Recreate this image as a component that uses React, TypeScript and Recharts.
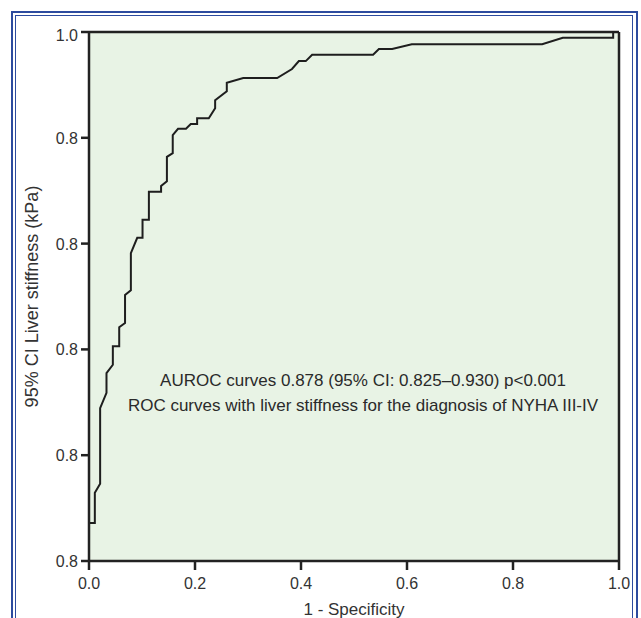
import { CartesianGrid, Line, LineChart, ReferenceLine, XAxis, YAxis } from "recharts";

// ROC curve points (1 - specificity, sensitivity)
const fpr = [
  0, 0, 0.011, 0.011, 0.021, 0.021, 0.033, 0.033, 0.045, 0.045, 0.057, 0.057,
  0.068, 0.068, 0.079, 0.079, 0.091, 0.101, 0.101, 0.113, 0.113, 0.136, 0.136,
  0.147, 0.147, 0.158, 0.158, 0.168, 0.183, 0.192, 0.204, 0.204, 0.226, 0.238,
  0.238, 0.26, 0.26, 0.291, 0.355, 0.383, 0.396, 0.409, 0.421, 0.536, 0.547,
  0.572, 0.609, 0.855, 0.894, 0.989, 0.989, 1.0,
];
const tpr = [
  0, 0.072, 0.072, 0.129, 0.146, 0.289, 0.318, 0.355, 0.371, 0.406, 0.406, 0.442,
  0.45, 0.503, 0.512, 0.582, 0.611, 0.611, 0.645, 0.645, 0.698, 0.698, 0.709,
  0.718, 0.764, 0.771, 0.805, 0.817, 0.817, 0.826, 0.826, 0.837, 0.837, 0.856,
  0.871, 0.888, 0.904, 0.913, 0.913, 0.93, 0.945, 0.945, 0.957, 0.957, 0.968,
  0.968, 0.977, 0.977, 0.989, 0.989, 1.0, 1.0,
];

const xTicks = [0, 0.2, 0.4, 0.6, 0.8, 1.0];
const xTickLabels = ["0.0", "0.2", "0.4", "0.6", "0.8", "1.0"];
const yTicks = [0, 0.2, 0.4, 0.6, 0.8, 1.0];
const yTickLabels = ["0.8", "0.8", "0.8", "0.8", "0.8", "1.0"];

const annotation = [
  "AUROC curves 0.878 (95% CI: 0.825\u20130.930) p<0.001",
  "ROC curves with liver stiffness for the diagnosis of NYHA III-IV",
];

const data = fpr.map((x, i) => ({ x, y: tpr[i] }));

const FONT = "'Liberation Sans', Arial, sans-serif";
const INK = "#222";
const BLUE = "#2d4b9e";

const XTick = ({ x, y, payload }: any) => (
  <text
    x={x}
    y={y + 15}
    textAnchor="middle"
    fontSize={16}
    fill="#333"
    fontFamily={FONT}
  >
    {xTickLabels[xTicks.indexOf(payload.value)] ?? ""}
  </text>
);

const YTick = ({ x, y, payload }: any) => (
  <text
    x={x}
    y={y + 6 + (payload.value === 1 ? 3 : 0)}
    textAnchor="end"
    fontSize={16}
    fill="#333"
    fontFamily={FONT}
  >
    {yTickLabels[yTicks.indexOf(payload.value)] ?? ""}
  </text>
);

export default function App() {
  return (
    <div
      style={{
        position: "absolute",
        left: 0,
        top: 0,
        width: 641,
        height: 618,
        overflow: "hidden",
        background: "#fff",
        fontFamily: FONT,
      }}
    >
      {/* double blue frame */}
      <div
        style={{
          position: "absolute",
          left: 11,
          top: 11,
          width: 623,
          height: 700,
          border: `2.5px solid ${BLUE}`,
        }}
      />
      <div
        style={{
          position: "absolute",
          left: 15,
          top: 15,
          width: 616,
          height: 700,
          border: `1px solid ${BLUE}`,
        }}
      />

      <div style={{ position: "absolute", left: 0, top: 0 }}>
        <LineChart
          width={641}
          height={618}
          data={data}
          margin={{ top: 32, right: 22, left: 29, bottom: 0 }}
        >
          <CartesianGrid fill="#e8f3e5" fillOpacity={1} horizontal={false} vertical={false} />
          <XAxis
            type="number"
            dataKey="x"
            domain={[0, 1]}
            ticks={xTicks}
            height={57}
            tickSize={9}
            tickMargin={4}
            tick={<XTick />}
            axisLine={{ stroke: INK, strokeWidth: 2.5 }}
            tickLine={{ stroke: INK, strokeWidth: 2.5 }}
            label={{
              value: "1 - Specificity",
              position: "insideBottom",
              offset: 3,
              style: { fontSize: 17, fill: "#333", fontFamily: FONT },
            }}
          />
          <YAxis
            type="number"
            dataKey="y"
            domain={[0, 1]}
            ticks={yTicks}
            width={60}
            tickSize={8}
            tickMargin={3}
            tick={<YTick />}
            axisLine={{ stroke: INK, strokeWidth: 2.5 }}
            tickLine={{ stroke: INK, strokeWidth: 2.5 }}
            label={{
              value: "95% CI Liver stiffness (kPa)",
              angle: -90,
              position: "insideLeft",
              offset: 6,
              dx: -3,
              style: { textAnchor: "middle", fontSize: 18, fill: "#333", fontFamily: FONT },
            }}
          />
          <ReferenceLine y={1} stroke={INK} strokeWidth={2.5} />
          <ReferenceLine x={1} stroke={INK} strokeWidth={2.5} />
          <Line
            type="linear"
            dataKey="y"
            stroke="#1e1e1e"
            strokeWidth={2}
            dot={false}
            isAnimationActive={false}
          />
        </LineChart>
      </div>

      {annotation.map((t, i) => (
        <div
          key={i}
          style={{
            position: "absolute",
            left: 88,
            width: 550,
            top: 369 + i * 25,
            height: 24,
            lineHeight: "24px",
            fontSize: 17,
            color: "#2a2a2a",
            textAlign: "center",
            whiteSpace: "nowrap",
          }}
        >
          {t}
        </div>
      ))}
    </div>
  );
}
